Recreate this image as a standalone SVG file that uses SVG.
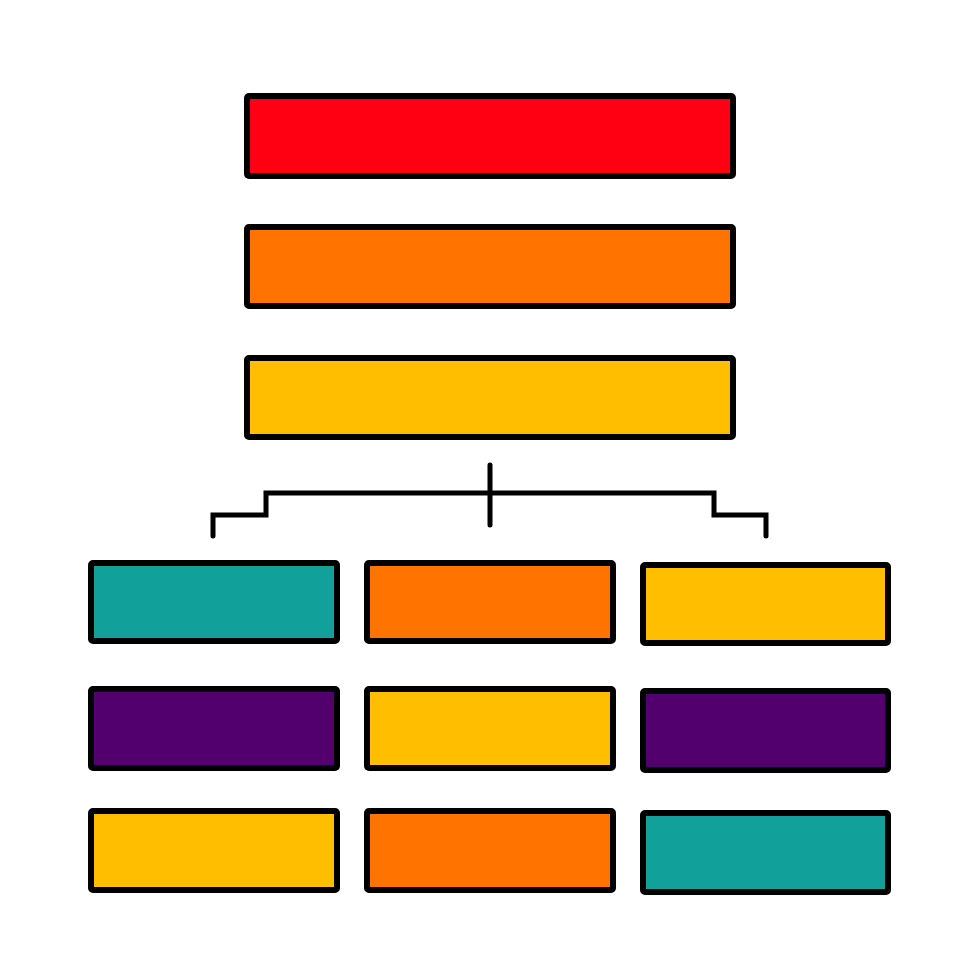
<svg xmlns="http://www.w3.org/2000/svg" width="980" height="980" viewBox="0 0 980 980">
<style>
.b{stroke:#000;stroke-width:6;stroke-linejoin:round}
.c{fill:none;stroke:#000;stroke-width:5;stroke-linecap:round;stroke-linejoin:miter}
.red{fill:#FF0013}.org{fill:#FF7300}.yel{fill:#FFBE00}.teal{fill:#12A09B}.pur{fill:#52006E}
</style>
<rect width="980" height="980" fill="#fff"/>
<g id="top1"><rect class="b red" x="247" y="96" width="486" height="80" rx="2"/></g>
<g id="top2"><rect class="b org" x="247" y="227" width="486" height="79" rx="2"/></g>
<g id="top3"><rect class="b yel" x="247" y="358" width="486" height="79" rx="2"/></g>
<g id="connectors">
<line class="c" x1="490" y1="465" x2="490" y2="525"/>
<path class="c" d="M213 536 V515 H266 V493 H714 V515 H766 V536"/>
</g>
<g id="r1c1"><rect class="b teal" x="91" y="563" width="246" height="78" rx="2"/></g>
<g id="r1c2"><rect class="b org" x="367" y="563" width="246" height="78" rx="2"/></g>
<g id="r1c3"><rect class="b yel" x="643" y="565" width="245" height="78" rx="2"/></g>
<g id="r2c1"><rect class="b pur" x="91" y="689" width="246" height="79" rx="2"/></g>
<g id="r2c2"><rect class="b yel" x="367" y="689" width="246" height="79" rx="2"/></g>
<g id="r2c3"><rect class="b pur" x="643" y="691" width="245" height="79" rx="2"/></g>
<g id="r3c1"><rect class="b yel" x="91" y="811" width="246" height="79" rx="2"/></g>
<g id="r3c2"><rect class="b org" x="367" y="811" width="246" height="79" rx="2"/></g>
<g id="r3c3"><rect class="b teal" x="643" y="813" width="245" height="79" rx="2"/></g>
</svg>
